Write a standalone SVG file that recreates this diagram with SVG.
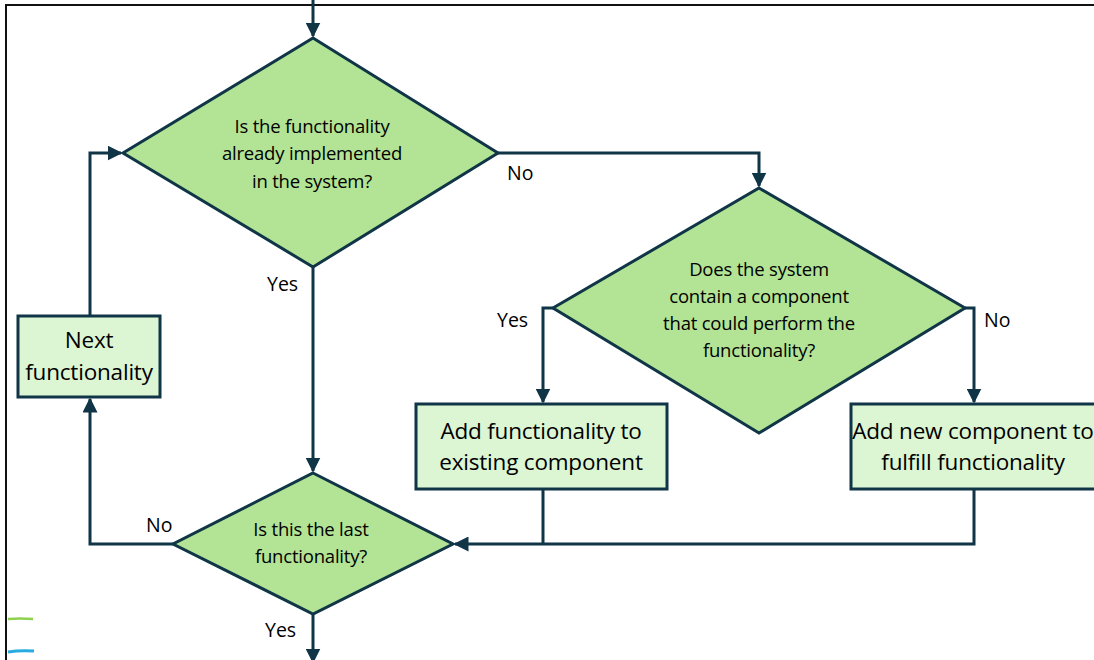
<svg xmlns="http://www.w3.org/2000/svg" width="1094" height="660" viewBox="0 0 1094 660">
  <defs>
    <marker id="arrow" viewBox="0 0 10 10" refX="9" refY="5" markerWidth="5" markerHeight="5" markerUnits="strokeWidth" orient="auto">
      <path d="M0,0 L10,5 L0,10 z" fill="#0f3547"/>
    </marker>
    <style>
      .decision { fill: #b3e394; stroke: #0f3547; stroke-width: 3; stroke-linejoin: miter; }
      .process { fill: #dcf5d3; stroke: #0f3547; stroke-width: 3; }
      .edge { fill: none; stroke: #0f3547; stroke-width: 3; }
      .dtext { font-family: "Open Sans", "Liberation Sans", sans-serif; font-size: 18.5px; fill: #000; text-anchor: middle; letter-spacing: -0.2px; }
      .ptext { font-family: "Open Sans", "Liberation Sans", sans-serif; font-size: 22.5px; fill: #000; text-anchor: middle; letter-spacing: -0.2px; }
      .label { font-family: "Open Sans", "Liberation Sans", sans-serif; font-size: 19.5px; fill: #000; }
    </style>
  </defs>

  <rect width="1094" height="660" fill="#ffffff"/>
  <!-- page frame -->
  <path d="M6,660 L6,5 L1094,5" fill="none" stroke="#111" stroke-width="2"/>
  <!-- small coloured strokes at the left margin -->
  <path d="M8,619 Q20,618 33,619" fill="none" stroke="#8fd14f" stroke-width="2.5"/>
  <path d="M8,652 Q20,650 34,651" fill="none" stroke="#29aae1" stroke-width="3"/>

  <g id="connectors">
    <path class="edge" d="M313,0 L313,36" marker-end="url(#arrow)"/>
    <path class="edge" d="M498,153 L759,153 L759,186" marker-end="url(#arrow)"/>
    <path class="edge" d="M553,308 L543,308 L543,402" marker-end="url(#arrow)"/>
    <path class="edge" d="M965,308 L974,308 L974,402" marker-end="url(#arrow)"/>
    <path class="edge" d="M313,267 L313,471" marker-end="url(#arrow)"/>
    <path class="edge" d="M543,489 L543,544"/>
    <path class="edge" d="M974,489 L974,544 L455,544" marker-end="url(#arrow)"/>
    <path class="edge" d="M173,544 L90,544 L90,399" marker-end="url(#arrow)"/>
    <path class="edge" d="M90,316 L90,153 L121,153" marker-end="url(#arrow)"/>
    <path class="edge" d="M313,614 L313,662" marker-end="url(#arrow)"/>
    <text class="label" x="507" y="180">No</text>
    <text class="label" x="267" y="291">Yes</text>
    <text class="label" x="497" y="327">Yes</text>
    <text class="label" x="984" y="327">No</text>
    <text class="label" x="146" y="532">No</text>
    <text class="label" x="265" y="637">Yes</text>
  </g>

  <g id="node-implemented">
    <polygon class="decision" points="313,38 498,153 313,267 123,153"/>
    <text class="dtext" x="312" y="133">Is the functionality</text>
    <text class="dtext" x="312" y="160">already implemented</text>
    <text class="dtext" x="312" y="188">in the system?</text>
  </g>

  <g id="node-component">
    <polygon class="decision" points="759,188 965,308 759,433 553,308"/>
    <text class="dtext" x="759" y="276">Does the system</text>
    <text class="dtext" x="759" y="303">contain a component</text>
    <text class="dtext" x="759" y="330">that could perform the</text>
    <text class="dtext" x="759" y="357">functionality?</text>
  </g>

  <g id="node-add-existing">
    <rect class="process" x="416" y="404" width="251" height="85"/>
    <text class="ptext" x="541" y="439">Add functionality to</text>
    <text class="ptext" x="541" y="470">existing component</text>
  </g>

  <g id="node-add-new">
    <rect class="process" x="851" y="404" width="260" height="85"/>
    <text class="ptext" x="973" y="439">Add new component to</text>
    <text class="ptext" x="973" y="470">fulfill functionality</text>
  </g>

  <g id="node-last">
    <polygon class="decision" points="313,473 453,544 313,614 173,544"/>
    <text class="dtext" x="311" y="536">Is this the last</text>
    <text class="dtext" x="311" y="563">functionality?</text>
  </g>

  <g id="node-next">
    <rect class="process" x="18" y="316" width="142" height="81"/>
    <text class="ptext" x="89" y="348">Next</text>
    <text class="ptext" x="89" y="380">functionality</text>
  </g>
</svg>
